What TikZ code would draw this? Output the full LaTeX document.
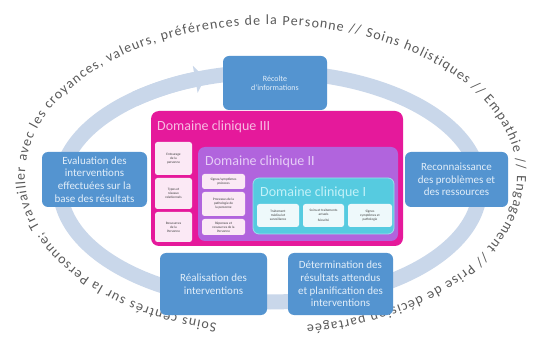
\documentclass[tikz,border=0pt]{standalone}
\usepackage{fontspec}
\setmainfont{Carlito}
\usetikzlibrary{decorations.text,arrows.meta,calc}
\definecolor{ringblue}{HTML}{C9D7EA}
\definecolor{ringtext}{HTML}{5A5A5A}
\definecolor{boxblue}{HTML}{5494D0}
\definecolor{boxtext}{HTML}{E2EEF9}
\definecolor{dcthree}{HTML}{E5199B}
\definecolor{dctwo}{HTML}{B164DD}
\definecolor{dcone}{HTML}{56CBE0}
\definecolor{titlethree}{HTML}{F8BDE3}
\definecolor{titletwo}{HTML}{E6CDF7}
\definecolor{titleone}{HTML}{C2F1F8}
\definecolor{smallfill}{HTML}{FBE9F5}
\definecolor{smallfillone}{HTML}{EEF9FB}
\definecolor{smalltext}{HTML}{3A3A3A}
\begin{document}
\begin{tikzpicture}[x=1pt,y=1pt,
  ring/.style={draw=ringblue, line width=15pt},
  stepbox/.style={fill=boxblue, rounded corners=6pt, text=boxtext, align=center,
    inner sep=2pt, font=\fontsize{11}{12.7}\selectfont},
  dcbox/.style={rounded corners=8pt, inner sep=0pt},
  dtitle/.style={anchor=west, inner sep=0pt, font=\fontsize{14}{14}\selectfont},
  itembox/.style={fill=smallfill, rounded corners=2.5pt, text=smalltext, align=center,
    inner sep=0.5pt, font=\fontsize{3.4}{4}\selectfont},
  itemboxone/.style={itembox, fill=smallfillone}
]
% page and its margins
\fill[white] (0,0) rectangle (535,-347);
\useasboundingbox (0,0) rectangle (535,-347);

% cycle ring behind the steps
\coordinate (ringc) at (270,-187);
\draw[ring] (ringc) ellipse[x radius=210pt, y radius=115pt];
\draw[ring, -{Triangle[length=10pt,width=27pt]}]
  ($(ringc)+(130:210pt and 115pt)$) arc[start angle=130, end angle=108, x radius=210pt, y radius=115pt];

% words written round the whole model
\coordinate (textc) at (271,-176);
\path[decorate, decoration={text along path, text align={fit to path},
  text={|\fontsize{14}{14}\selectfont\color{ringtext}|Soins centrés sur la Personne; Travailler avec les croyances, valeurs, préférences de la Personne // Soins holistiques // Empathie // Engagement // Prise de décision partagée}}]
  ($(textc)+(257.3:246pt and 151pt)$) arc[start angle=257.3, end angle=-81.6, x radius=246pt, y radius=151pt];

% nested clinical domains
\node[dcbox, fill=dcthree, minimum width=252pt, minimum height=135pt] (dc3) at (277,-178.5) {};
\node[dtitle, text=titlethree] (t3) at (157,-127) {Domaine clinique III};
\node[dcbox, fill=dctwo, rounded corners=7pt, minimum width=200pt, minimum height=94pt] (dc2) at (298,-194) {};
\node[dtitle, text=titletwo] (t2) at (205,-162) {Domaine clinique II};
\node[dcbox, fill=dcone, draw=dcone!60!white, line width=0.8pt, rounded corners=6pt, minimum width=141pt, minimum height=56pt] (dc1) at (323.5,-206) {};
\node[dtitle, text=titleone] (t1) at (260,-193) {Domaine clinique I};

% items of domain III
\node[itembox, minimum width=37pt, minimum height=33pt] (s3a) at (173.5,-158.5) {Entourage\\de la\\personne};
\node[itembox, minimum width=37pt, minimum height=31pt] (s3b) at (173.5,-193.5) {Types et\\réseaux\\relationnels};
\node[itembox, minimum width=37pt, minimum height=30pt] (s3c) at (173.5,-227) {Ressources\\de la\\Personne};

% items of domain II
\node[itembox, minimum width=43pt, minimum height=15pt] (s2a) at (223.5,-181.5) {Signes/symptômes\\précoces};
\node[itembox, minimum width=43pt, minimum height=24pt] (s2b) at (223.5,-204) {Processus de la\\pathologie de\\la personne};
\node[itembox, minimum width=43pt, minimum height=16pt] (s2c) at (223.5,-227) {Réponses et\\ressources de la\\Personne};

% items of domain I
\node[itemboxone, minimum width=42pt, minimum height=23pt] (s1a) at (278,-215.5) {Traitement\\médical et\\surveillance};
\node[itemboxone, minimum width=41pt, minimum height=23pt] (s1b) at (323.5,-215.5) {Soins et traitements\\actuels\\[2pt]Sécurité};
\node[itemboxone, minimum width=44pt, minimum height=23pt] (s1c) at (370,-215.5) {Signes\\symptômes et\\pathologie};

% steps of the cycle
\node[stepbox, font=\fontsize{8}{9}\selectfont, minimum width=104pt, minimum height=54pt] (rec) at (275,-83) {Récolte\\d’informations};
\node[stepbox, minimum width=103pt, minimum height=55pt] (reco) at (456.5,-179.5) {Reconnaissance\\des problèmes et\\des ressources};
\node[stepbox, minimum width=105pt, minimum height=62pt] (det) at (340.5,-284) {Détermination des\\résultats attendus\\et planification des\\interventions};
\node[stepbox, minimum width=107pt, minimum height=62pt] (real) at (213.5,-284) {Réalisation des\\interventions};
\node[stepbox, minimum width=105pt, minimum height=55pt] (eval) at (94.5,-179.5) {Evaluation des\\interventions\\effectuées sur la\\base des résultats};
\end{tikzpicture}
\end{document}
